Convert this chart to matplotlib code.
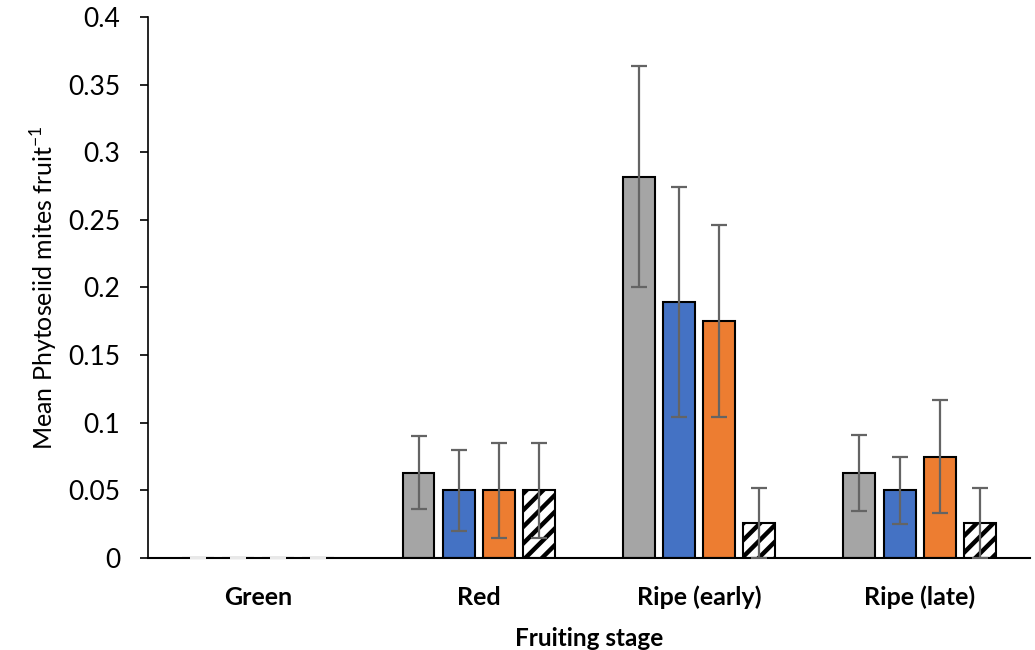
import numpy as np
import matplotlib.pyplot as plt

plt.rcParams['font.family'] = ['Lato', 'DejaVu Sans']
plt.rcParams['mathtext.fontset'] = 'custom'
plt.rcParams['mathtext.rm'] = 'Lato'
plt.rcParams['hatch.linewidth'] = 3.2

stages = ['Green', 'Red', 'Ripe (early)', 'Ripe (late)']
s1 = [0, 0.063, 0.282, 0.063]
s2 = [0, 0.050, 0.189, 0.050]
s3 = [0, 0.050, 0.175, 0.075]
s4 = [0, 0.050, 0.026, 0.026]
e1 = [0, 0.027, 0.082, 0.028]
e2 = [0, 0.030, 0.085, 0.025]
e3 = [0, 0.035, 0.071, 0.042]
e4 = [0, 0.035, 0.026, 0.026]

series = [s1, s2, s3, s4]
errs = [e1, e2, e3, e4]
colors = ['#A5A5A5', '#4472C4', '#ED7D31', 'white']
hatches = [None, None, None, '//']

fig = plt.figure(figsize=(10.35, 6.5), dpi=100)
ax = fig.add_axes([0.143, 0.1415, 0.852, 0.8325])

x = np.arange(len(stages))
w = 0.145
step = 0.182
for i in range(4):
    pos = x + (i - 1.5) * step
    ax.bar(pos, series[i], w, color=colors[i], edgecolor='black', linewidth=1.5,
           hatch=hatches[i], zorder=2)
    for j in range(len(stages)):
        c = '#E8E8E8' if series[i][j] == 0 else '#646464'
        ax.errorbar(pos[j], series[i][j], yerr=errs[i][j], fmt='none', ecolor=c,
                    elinewidth=1.6, capsize=6, capthick=1.6, zorder=3)

ax.set_xlim(-0.5, 3.5)
ax.set_ylim(0, 0.4)
ax.set_yticks(np.arange(0, 0.401, 0.05))
ax.set_yticklabels(['0', '0.05', '0.1', '0.15', '0.2', '0.25', '0.3', '0.35', '0.4'])
ax.set_xticks(x)
ax.set_xticklabels(stages, fontweight='bold', fontsize=18)
ax.tick_params(axis='x', length=0, pad=20)
ax.tick_params(axis='y', length=6, width=1.2, labelsize=19, pad=14, direction='out')
for s in ['top', 'right']:
    ax.spines[s].set_visible(False)
ax.spines['left'].set_linewidth(1.2)
ax.spines['bottom'].set_linewidth(1.5)

ax.set_ylabel('Mean Phytoseiid mites fruit$^{-1}$', fontsize=18, labelpad=6)
ax.set_xlabel('Fruiting stage', fontweight='bold', fontsize=17.5, labelpad=13)

fig.savefig('out.png', dpi=100)
